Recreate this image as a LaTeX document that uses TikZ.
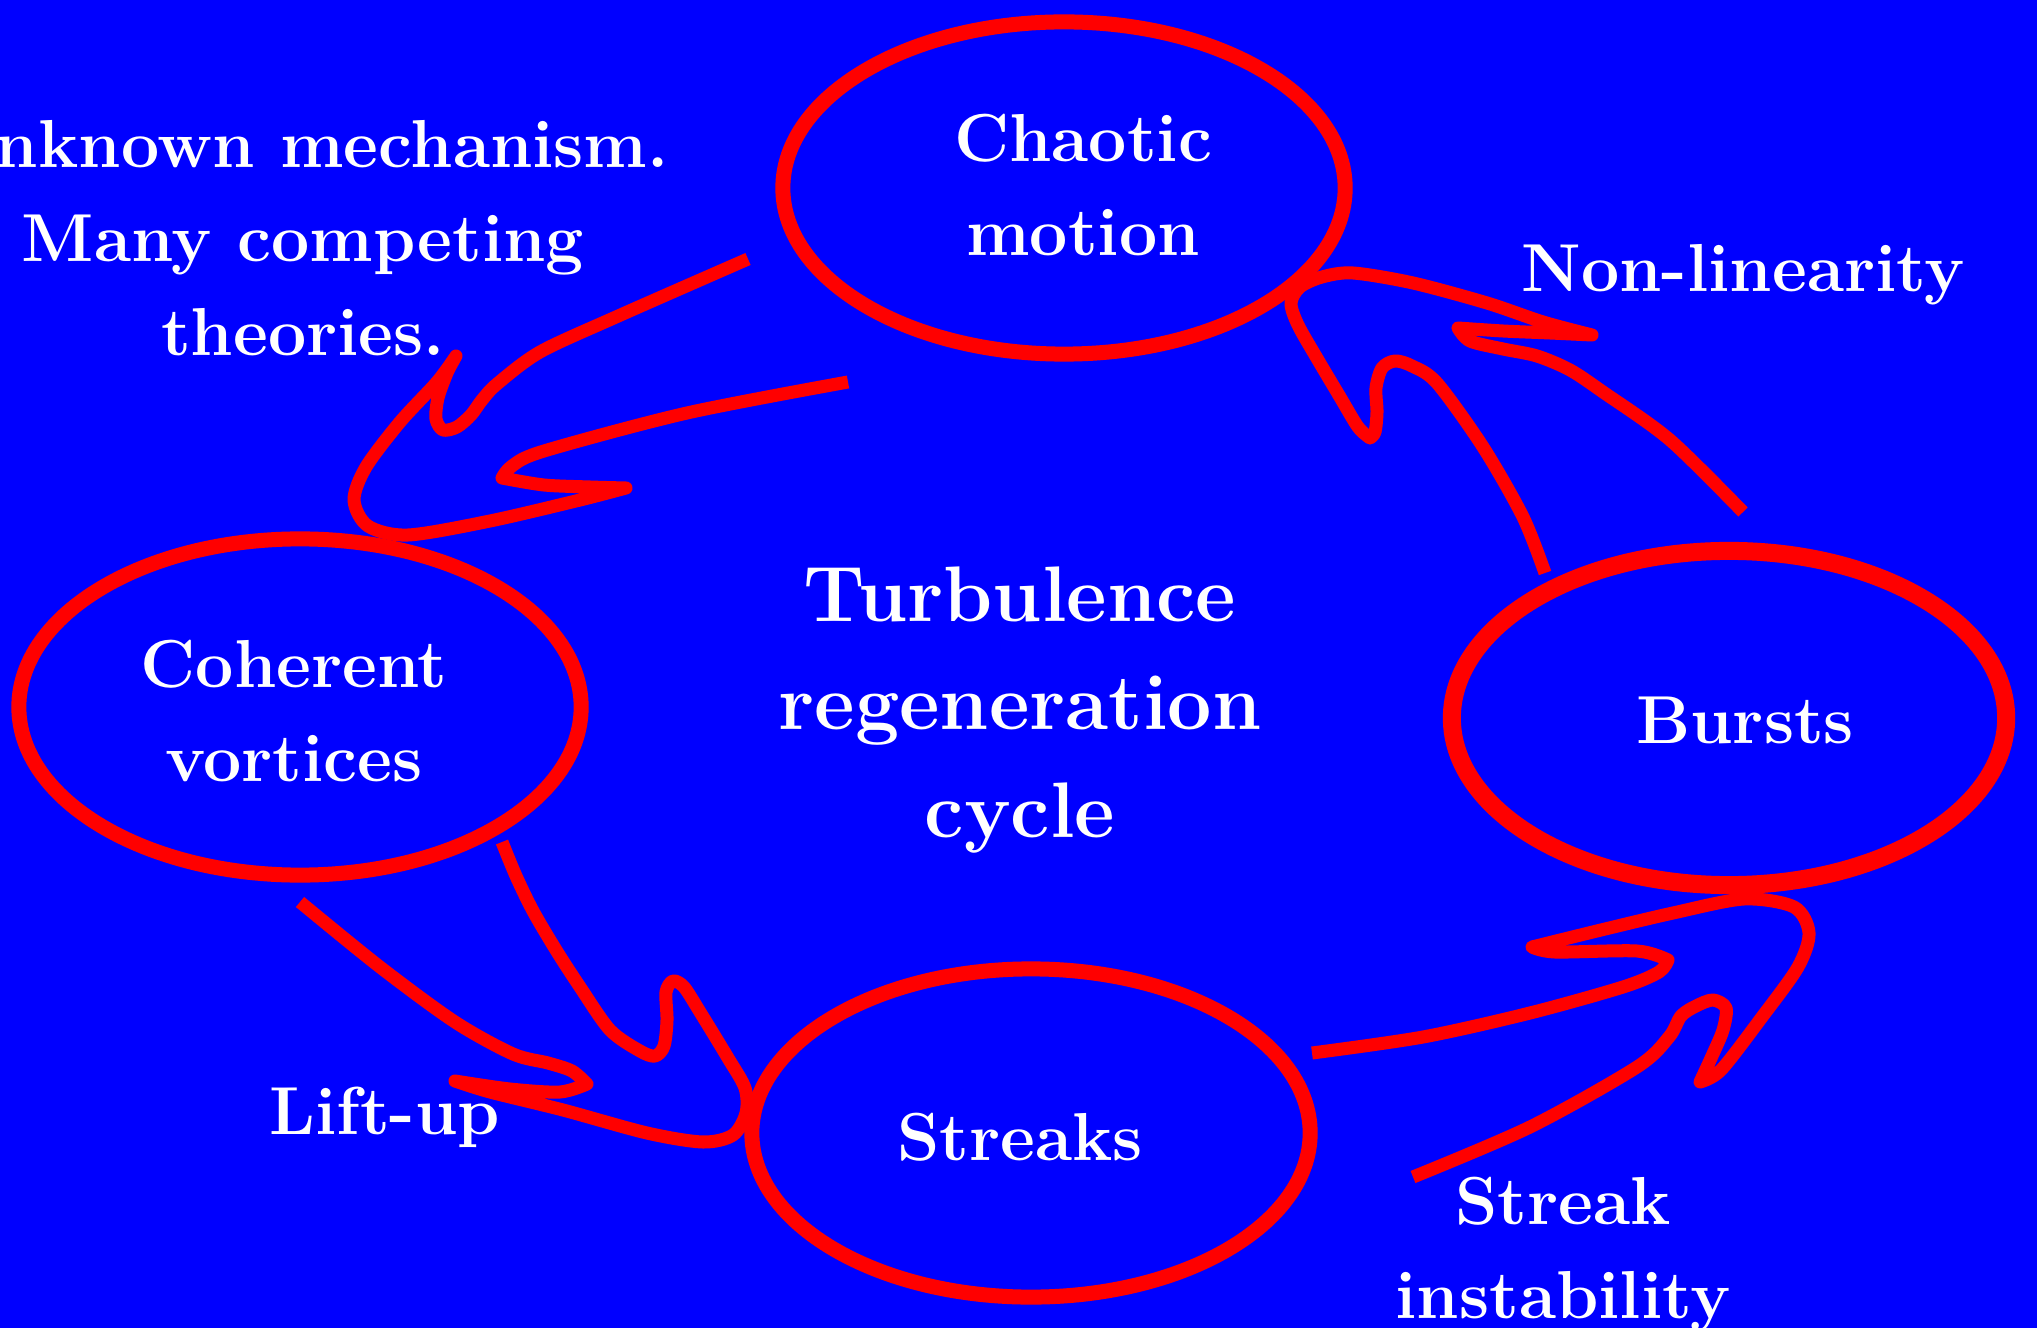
\documentclass[tikz,border=0pt]{standalone}
\usetikzlibrary{shapes.geometric}

\definecolor{slideblue}{RGB}{0,0,255}
\definecolor{penred}{RGB}{255,0,0}

\begin{document}
\begin{tikzpicture}[x=0.01cm,y=-0.01cm,
    phase/.style={ellipse,draw=penred,line width=0.15cm,inner sep=0},
    caption/.style={text=white,inner sep=0,align=center,
                    font=\bfseries\fontsize{19.3}{26.7}\selectfont},
    flow/.style={draw=penred,line width=0.13cm,line join=round}]
    \useasboundingbox (0,0) rectangle (2037,1328);
    \fill[slideblue] (0,0) rectangle (2037,1328);

    % the four phases
    \node[phase,minimum width=5.62cm,minimum height=3.32cm] (chaos)  at (1064,188)  {};
    \node[phase,minimum width=5.62cm,minimum height=3.36cm] (vortex) at (300,707)   {};
    \node[phase,minimum width=5.54cm,minimum height=3.34cm,
          line width=0.18cm]                                (burst)  at (1729,718)  {};
    \node[phase,minimum width=5.58cm,minimum height=3.28cm] (streak) at (1031,1133) {};

    % chaotic motion -> coherent vortices
    \draw[flow] plot[smooth] coordinates {(748,259) (616,317) (540,352) (497,384) (482,400)
                    (471,415) (457,427) (443,430) (436,419) (438,398) (447,373) (456,356)}
                -- plot[smooth] coordinates {(456,356) (437,382) (400,422) (366,467) (354,500)
                    (368,526) (408,535) (490,521) (580,500) (626,488)}
                -- plot[smooth] coordinates {(626,488) (590,487) (544,485) (502,478)}
                -- plot[smooth] coordinates {(502,478) (512,466) (544,451) (687,413) (848,382)};
    % bursts -> chaotic motion
    \draw[flow] plot[smooth] coordinates {(1545,573) (1523,517) (1483,447) (1437,383) (1412,366)
                    (1395,361) (1382,368) (1376,388) (1377,412) (1375,432) (1370,438)}
                -- plot[smooth] coordinates {(1370,438) (1358,427) (1340,397) (1318,360) (1298,325)
                    (1291,303) (1300,287) (1322,277) (1353,273) (1413,283) (1487,303) (1543,322) (1592,335)}
                -- plot[smooth] coordinates {(1592,335) (1550,333) (1503,331) (1458,328)}
                -- plot[smooth] coordinates {(1458,328) (1470,341) (1503,349) (1537,356) (1570,370)
                    (1603,392) (1670,440) (1743,512)};
    % coherent vortices -> streaks
    \draw[flow] plot[smooth] coordinates {(300,902) (380,967) (455,1022) (513,1054) (548,1063)
                    (572,1071) (587,1084)}
                -- plot[smooth] coordinates {(587,1084) (560,1092) (510,1089) (455,1081)}
                -- plot[smooth] coordinates {(455,1081) (490,1092) (563,1110) (647,1133) (703,1142)
                    (733,1135) (746,1113) (745,1088) (728,1058) (700,1012) (684,987) (673,981)
                    (666,992) (667,1020) (664,1046) (655,1056) (640,1051) (610,1030) (580,987)
                    (556,950) (533,911) (516,876) (502,842)};
    % streaks -> bursts
    \draw[flow] plot[smooth] coordinates {(1413,1177) (1530,1127) (1637,1067) (1669,1037) (1681,1016)
                    (1696,1006) (1713,1000) (1726,1008) (1723,1030) (1712,1056) (1700,1082)}
                -- plot[smooth] coordinates {(1700,1082) (1721,1070) (1762,1017) (1798,967) (1809,933)
                    (1794,907) (1744,899) (1673,913) (1601,930) (1532,947)}
                -- plot[smooth] coordinates {(1532,947) (1555,952) (1637,951) (1668,960)}
                -- plot[smooth] coordinates {(1668,960) (1659,972) (1623,987) (1530,1013) (1423,1037)
                    (1312,1053)};

    % texts
    \node[caption] (chaos_txt)   at (1083,185)  {Chaotic\\motion};
    \node[caption] (vortex_txt)  at (294,711)   {Coherent\\vortices};
    \node[caption] (burst_txt)   at (1745,720)  {Bursts};
    \node[caption] (streak_txt)  at (1020,1137) {Streaks};
    \node[caption,font=\bfseries\fontsize{22.4}{30.8}\selectfont]
                   (cycle_txt)   at (1020,710)  {Turbulence\\regeneration\\cycle};
    \node[caption] (nonlin_txt)  at (1743,275)  {Non-linearity};
    \node[caption] (liftup_txt)  at (385,1117)  {Lift-up};
    \node[caption] (instab_txt)  at (1563,1255) {Streak\\instability};
    \node[caption] (unknown_txt) at (303,238)   {Unknown mechanism.\\Many competing\\theories.};
\end{tikzpicture}
\end{document}
